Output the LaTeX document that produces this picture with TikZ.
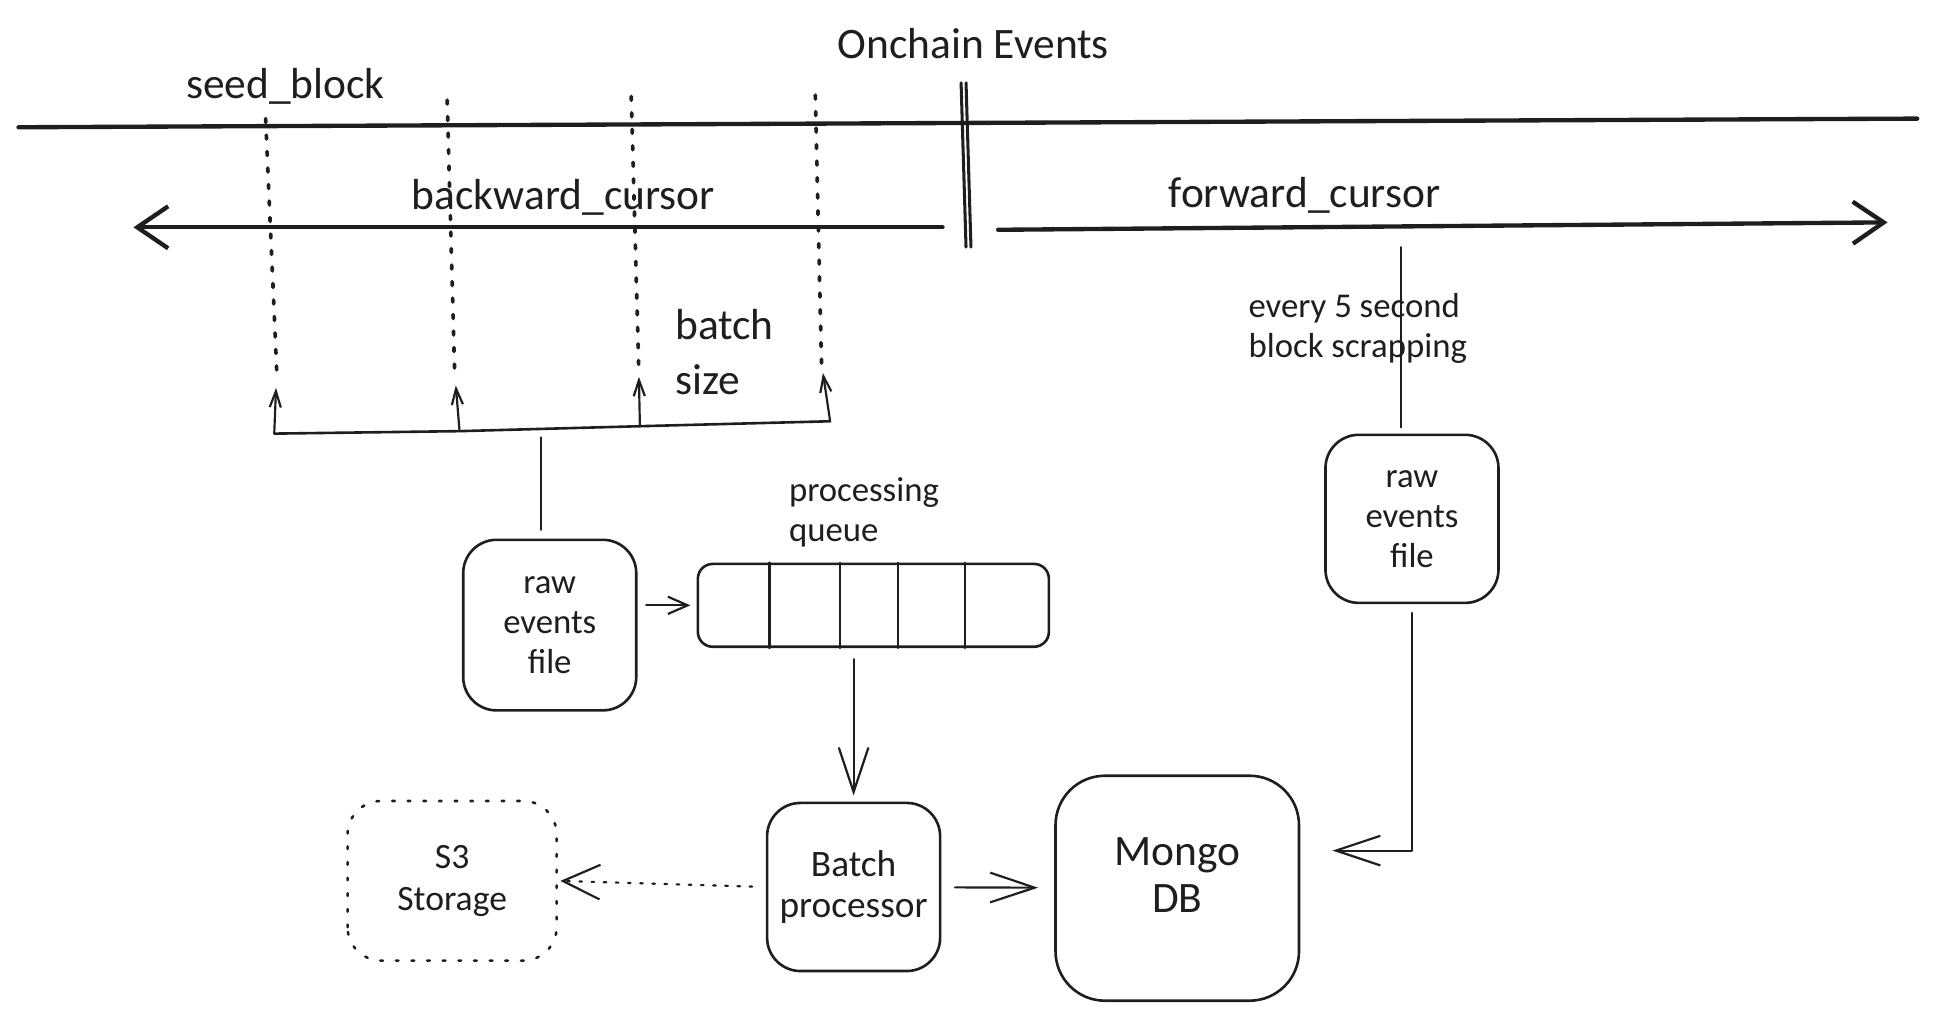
\documentclass[tikz,border=0pt]{standalone}
\usepackage{fontspec}
\setmainfont{Carlito}
\usetikzlibrary{arrows.meta}
\definecolor{ink}{HTML}{1E1E1E}

\begin{document}
\begin{tikzpicture}[x=0.01cm, y=-0.01cm, color=ink, line cap=round, line join=round,
    title/.style={font=\fontsize{10}{11.5}\selectfont, inner sep=0pt},
    small/.style={font=\fontsize{8}{9.2}\selectfont, inner sep=0pt},
    box/.style={draw, line width=0.6pt, rounded corners=0.27cm, align=center,
        font=\fontsize{8}{9.2}\selectfont, inner sep=0pt},
    dots/.style={line width=0.85pt, dash pattern=on 0.9pt off 2.9pt},
    cursor/.style={line width=1pt, -{Straight Barb[length=0.25cm, width=0.34cm]}},
    arr/.style={line width=0.5pt, -{Straight Barb[length=0.16cm, width=0.14cm]}},
    longarr/.style={line width=0.5pt, -{Straight Barb[length=0.36cm, width=0.24cm]}},
    uparr/.style={line width=0.5pt, -{Straight Barb[length=0.13cm, width=0.09cm]}}]
    \useasboundingbox (0,0) rectangle (1568,826);

    % timeline
    \draw[line width=1pt] (15,103) -- (1552,96);
    \draw[line width=0.7pt] (778,67) -- (782,200);
    \draw[line width=0.7pt] (782,67) -- (786,200);
    \draw[cursor] (763,184) -- (108,184);
    \draw[cursor] (808,186) -- (1528,180);

    \node[title] (OE) at (788,35) {Onchain Events};
    \node[title] (SB) at (231,70) {seed\_block};
    \node[title] (BC) at (456,160) {backward\_cursor};
    \node[title] (FC) at (1056,158) {forward\_cursor};
    \node[title, align=left, anchor=west] (BS) at (546,285) {batch\\[1pt]size};
    \node[small, align=left, anchor=west] (ES) at (1010,266) {every 5 second\\block scrapping};
    \node[small, align=left, anchor=west] (PQ) at (638,415) {processing\\queue};

    % batches
    \coordinate (D1) at (224,300);
    \coordinate (D2) at (368,300);
    \coordinate (D3) at (517,296);
    \coordinate (D4) at (665,294);
    \draw[dots] (215,96) -- (D1);
    \draw[dots] (362,81) -- (D2);
    \draw[dots] (511,78) -- (D3);
    \draw[dots] (660,77) -- (D4);

    \coordinate (K1) at (222,351);
    \coordinate (K2) at (372,349);
    \coordinate (K3) at (518,345);
    \coordinate (K4) at (672,341);
    \draw[line width=0.6pt] (K1) -- (K2) -- (K3) -- (K4);
    \draw[uparr, shorten >=0.14cm] (K1) -- (D1);
    \draw[uparr, shorten >=0.12cm] (K2) -- (D2);
    \draw[uparr, shorten >=0.09cm] (K3) -- (D3);
    \draw[uparr, shorten >=0.08cm] (K4) -- (D4);

    % boxes
    \node[box, minimum width=1.40cm, minimum height=1.38cm] (RL) at (445,506) {raw\\events\\file};
    \node[box, minimum width=1.40cm, minimum height=1.36cm] (RR) at (1143,420) {raw\\events\\file};
    \node[draw, line width=0.6pt, rounded corners=0.12cm, minimum width=2.84cm,
        minimum height=0.67cm, inner sep=0pt] (Q) at (707,490) {};
    \node[box, minimum width=1.40cm, minimum height=1.36cm,
        font=\fontsize{8.6}{9.4}\selectfont] (BP) at (691,718) {Batch\\processor};
    \node[box, rounded corners=0.4cm, minimum width=1.97cm, minimum height=1.82cm,
        text depth=6pt, font=\fontsize{10}{10.8}\selectfont] (DB) at (953,719) {Mongo\\DB};
    \node[box, draw=none, minimum width=1.67cm, minimum height=1.27cm,
        font=\fontsize{8.2}{9.7}\selectfont] (S3) at (366,713) {S3\\Storage};
    \draw[line width=0.6pt, dash pattern=on 0.6pt off 3pt, rounded corners=0.27cm]
        (S3.south west) rectangle (S3.north east);

    \draw[line width=0.5pt] ([xshift=0.59cm]Q.north west) -- ([xshift=0.59cm]Q.south west);
    \draw[line width=0.5pt] ([xshift=1.16cm]Q.north west) -- ([xshift=1.16cm]Q.south west);
    \draw[line width=0.5pt] ([xshift=1.63cm]Q.north west) -- ([xshift=1.63cm]Q.south west);
    \draw[line width=0.5pt] ([xshift=2.17cm]Q.north west) -- ([xshift=2.17cm]Q.south west);

    % connectors
    \coordinate (K0) at (438,354);
    \coordinate (F0) at (1134,184);
    \draw[line width=0.5pt, shorten >=0.07cm] (K0) -- (K0 |- RL.north);
    \draw[line width=0.5pt, shorten <=0.16cm, shorten >=0.05cm] (F0) -- (F0 |- RR.north);
    \draw[arr, shorten <=0.07cm, shorten >=0.05cm] (RL.east |- Q.west) -- (Q.west);
    \draw[longarr, shorten <=0.09cm, shorten >=0.05cm] (BP.north |- Q.south) -- (BP.north);
    \draw[longarr, shorten <=0.11cm, shorten >=0.13cm] (BP) -- (DB);
    \draw[longarr, shorten <=0.07cm, shorten >=0.26cm] (RR.south) |- (DB.17);
    \draw[line width=0.5pt, dash pattern=on 0.6pt off 2.2pt,
        -{Straight Barb[length=0.3cm, width=0.28cm]}, shorten <=0.11cm, shorten >=0.03cm]
        (BP.west) -- (S3.east);
\end{tikzpicture}
\end{document}
